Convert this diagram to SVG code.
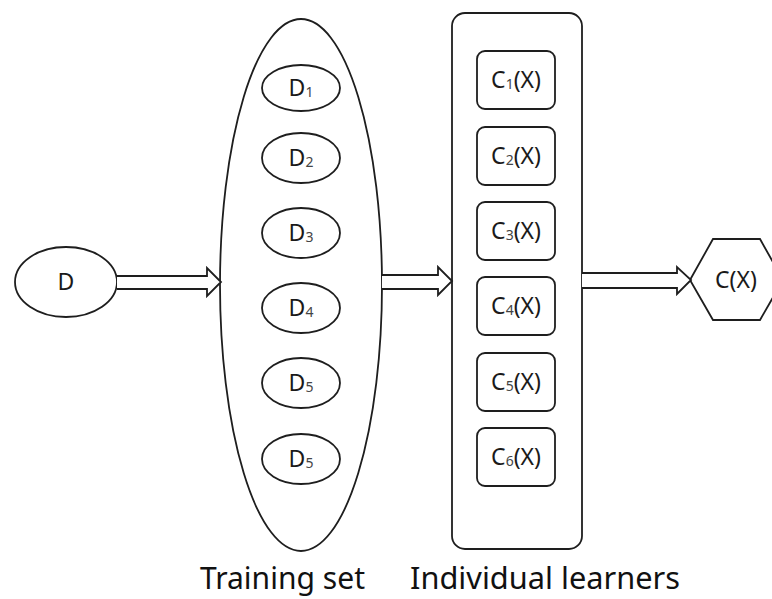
<svg xmlns="http://www.w3.org/2000/svg" width="772" height="599" viewBox="0 0 772 599">
  <style>
    .shape { fill: #ffffff; stroke: #1e1e1e; stroke-width: 1.8; }
    .conn { fill: #ffffff; stroke: #1e1e1e; stroke-width: 1.8; stroke-linejoin: miter; }
    .lbl { font-family: "Noto Sans", "Open Sans", "Liberation Sans", sans-serif; font-size: 23px; fill: #1a1a1a; text-anchor: middle; }
    .sub { font-size: 14px; fill: #444444; }
    .cap { font-family: "Noto Sans", "Open Sans", "Liberation Sans", sans-serif; font-size: 31px; fill: #111111; }
  </style>
  <rect width="772" height="599" fill="#ffffff"/>

  <!-- input data set -->
  <g id="node-D">
    <ellipse class="shape" cx="66" cy="282" rx="51" ry="35"/>
    <text class="lbl" x="66" y="290">D</text>
  </g>

  <!-- training set container -->
  <g id="node-training-set">
    <ellipse class="shape" cx="301" cy="285" rx="81" ry="266"/>
    <text class="cap" x="200" y="589" textLength="165" lengthAdjust="spacingAndGlyphs">Training set</text>
  </g>
  <g id="node-D1">
    <ellipse class="shape" cx="301" cy="88" rx="39" ry="23"/>
    <text class="lbl" x="301" y="96">D<tspan class="sub" dy="1">1</tspan></text>
  </g>
  <g id="node-D2">
    <ellipse class="shape" cx="301" cy="158" rx="39" ry="25"/>
    <text class="lbl" x="301" y="166">D<tspan class="sub" dy="1">2</tspan></text>
  </g>
  <g id="node-D3">
    <ellipse class="shape" cx="301" cy="233" rx="39" ry="25"/>
    <text class="lbl" x="301" y="241">D<tspan class="sub" dy="1">3</tspan></text>
  </g>
  <g id="node-D4">
    <ellipse class="shape" cx="301" cy="308" rx="39" ry="25"/>
    <text class="lbl" x="301" y="316">D<tspan class="sub" dy="1">4</tspan></text>
  </g>
  <g id="node-D5">
    <ellipse class="shape" cx="301" cy="383" rx="39" ry="25"/>
    <text class="lbl" x="301" y="391">D<tspan class="sub" dy="1">5</tspan></text>
  </g>
  <g id="node-D5b">
    <ellipse class="shape" cx="301" cy="459" rx="39" ry="25"/>
    <text class="lbl" x="301" y="467">D<tspan class="sub" dy="1">5</tspan></text>
  </g>

  <!-- individual learners container -->
  <g id="node-learners">
    <rect class="shape" x="452" y="13" width="130" height="536" rx="13"/>
    <text class="cap" x="410" y="589" textLength="270" lengthAdjust="spacingAndGlyphs">Individual learners</text>
  </g>
  <g id="node-C1">
    <rect class="shape" x="477" y="51" width="78" height="58" rx="8"/>
    <text class="lbl" x="516" y="88">C<tspan class="sub" dy="1">1</tspan><tspan dy="-1">(X)</tspan></text>
  </g>
  <g id="node-C2">
    <rect class="shape" x="477" y="127" width="78" height="58" rx="8"/>
    <text class="lbl" x="516" y="164">C<tspan class="sub" dy="1">2</tspan><tspan dy="-1">(X)</tspan></text>
  </g>
  <g id="node-C3">
    <rect class="shape" x="477" y="202" width="78" height="58" rx="8"/>
    <text class="lbl" x="516" y="239">C<tspan class="sub" dy="1">3</tspan><tspan dy="-1">(X)</tspan></text>
  </g>
  <g id="node-C4">
    <rect class="shape" x="477" y="277" width="78" height="58" rx="8"/>
    <text class="lbl" x="516" y="314">C<tspan class="sub" dy="1">4</tspan><tspan dy="-1">(X)</tspan></text>
  </g>
  <g id="node-C5">
    <rect class="shape" x="477" y="353" width="78" height="58" rx="8"/>
    <text class="lbl" x="516" y="390">C<tspan class="sub" dy="1">5</tspan><tspan dy="-1">(X)</tspan></text>
  </g>
  <g id="node-C6">
    <rect class="shape" x="477" y="428" width="78" height="58" rx="8"/>
    <text class="lbl" x="516" y="465">C<tspan class="sub" dy="1">6</tspan><tspan dy="-1">(X)</tspan></text>
  </g>

  <!-- combined output -->
  <g id="node-CX">
    <polygon class="shape" points="690,280 713,239 760,239 783,280 760,320 713,320"/>
    <text class="lbl" x="736" y="288">C(X)</text>
  </g>

  <!-- hollow block arrows between stages -->
  <g id="connectors">
    <path class="conn" d="M117,276 H207 V268 L221,282 L207,296 V289 H117"/>
    <path class="conn" d="M382,275 H438 V267 L452,281 L438,295 V289 H382"/>
    <path class="conn" d="M582,273 H677 V267 L691,280 L677,294 V288 H582"/>
  </g>
</svg>
